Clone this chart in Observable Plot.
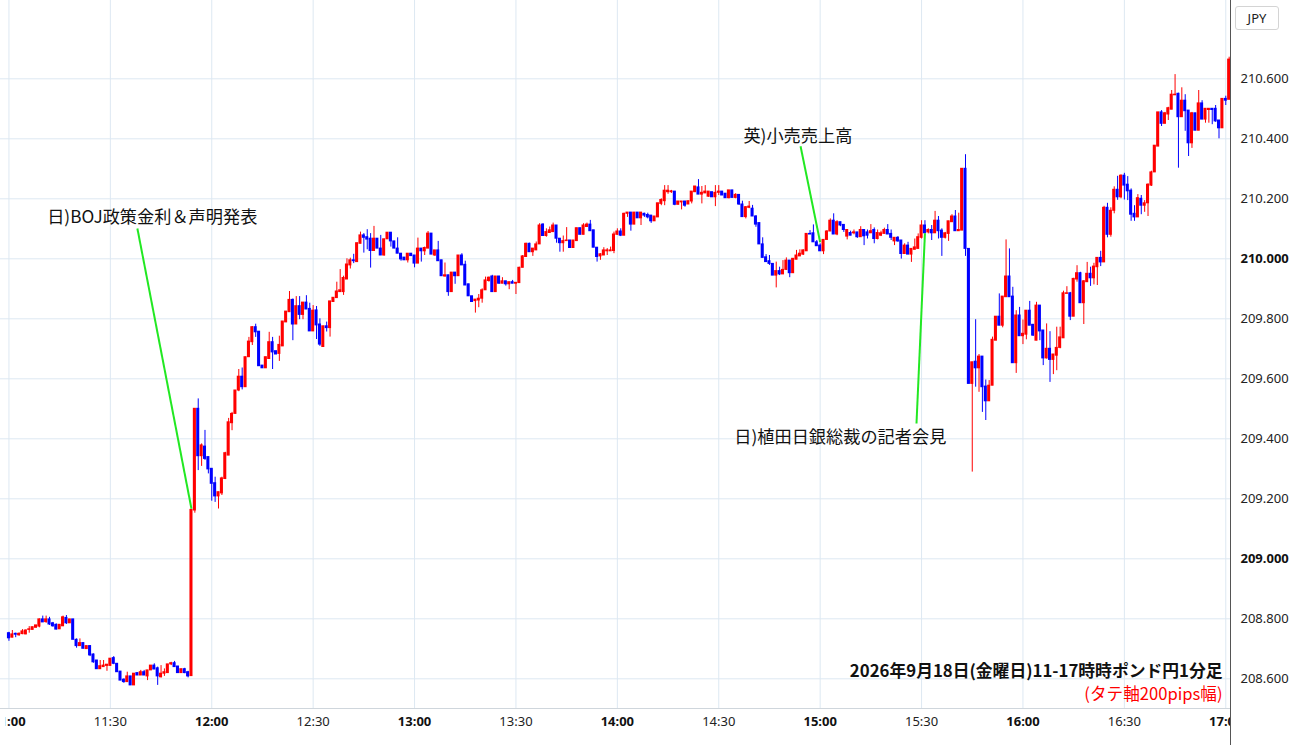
<!DOCTYPE html>
<html lang="ja">
<head>
<meta charset="utf-8">
<script src="https://cdn.jsdelivr.net/npm/d3@7"></script>
<script src="https://cdn.jsdelivr.net/npm/@observablehq/plot@0.6"></script>
<style>
html,body{margin:0;padding:0;background:#fff;}
#chart{position:relative;width:1300px;height:745px;overflow:hidden;}
#unit{position:absolute;left:1235px;top:6px;width:44px;height:24px;box-sizing:border-box;border:1px solid #d4d4d4;border-radius:3px;font:13px "Noto Sans",sans-serif;color:#222;display:flex;align-items:center;justify-content:center;background:#fff;z-index:2;}
</style>
</head>
<body>
<div id="chart"><div id="unit">JPY</div></div>
<script>
// GBP/JPY 1-minute candles, 2026-09-18, starting 11:00 (one entry per minute)
const startTime = "11:00";
const open = [
208.752,208.737,208.750,208.745,208.749,208.748,208.763,208.763,208.770,208.774,
208.798,208.789,208.798,208.785,208.780,208.765,208.775,208.803,208.785,208.798,
208.730,208.709,208.719,208.699,208.709,208.681,208.661,208.632,208.639,208.643,
208.643,208.669,208.650,208.624,208.597,208.589,208.608,208.578,208.619,208.611,
208.622,208.608,208.628,208.644,208.635,208.605,208.617,208.619,208.648,208.652,
208.641,208.619,208.632,208.622,208.609,209.161,209.500,209.342,209.374,209.339,
209.300,209.252,209.208,209.218,209.266,209.344,209.452,209.483,209.561,209.607,
209.572,209.672,209.722,209.772,209.757,209.644,209.635,209.666,209.722,209.692,
209.683,209.708,209.788,209.822,209.863,209.781,209.842,209.813,209.854,209.833,
209.758,209.828,209.781,209.706,209.775,209.769,209.856,209.869,209.889,209.889,
209.931,209.978,209.995,209.989,210.050,210.078,210.072,210.067,210.026,210.067,
210.034,210.011,210.065,210.087,210.058,210.034,210.017,210.004,209.995,210.017,
210.011,209.984,210.034,210.025,210.034,210.084,210.011,210.028,209.995,209.941,
209.945,209.889,209.954,209.942,210.011,209.980,209.915,209.875,209.859,209.861,
209.867,209.895,209.926,209.941,209.889,209.941,209.917,209.925,209.915,209.922,
209.917,209.919,209.970,210.006,210.050,210.022,210.028,210.048,210.114,210.076,
210.086,210.089,210.111,210.067,210.052,210.059,210.061,210.036,210.059,210.102,
210.080,210.106,210.114,210.095,210.037,210.008,210.011,210.025,210.025,210.026,
210.080,210.091,210.077,210.150,210.154,210.114,210.154,210.135,210.150,210.146,
210.144,210.125,210.138,210.183,210.192,210.222,210.222,210.224,210.180,210.188,
210.191,210.181,210.191,210.222,210.238,210.214,210.218,210.207,210.222,210.205,
210.220,210.224,210.217,210.202,210.228,210.203,210.213,210.181,210.139,210.170,
210.167,210.141,210.119,210.048,210.005,209.992,209.983,209.944,209.959,209.948,
209.963,209.994,209.952,209.997,210.008,210.014,210.025,210.083,210.085,210.055,
210.044,210.025,210.063,210.091,210.127,210.081,210.122,210.113,210.074,210.086,
210.085,210.088,210.072,210.096,210.088,210.085,210.096,210.066,210.077,210.083,
210.096,210.083,210.058,210.070,210.061,210.016,210.044,210.014,210.030,210.033,
210.070,210.111,210.088,210.096,210.085,210.127,210.094,210.070,210.083,210.122,
210.141,210.092,210.094,210.300,210.033,209.583,209.657,209.635,209.674,209.574,
209.525,209.577,209.727,209.807,209.777,209.872,209.941,209.874,209.652,209.811,
209.742,209.747,209.827,209.780,209.727,209.844,209.761,209.668,209.700,209.663,
209.677,209.703,209.735,209.883,209.885,209.807,209.931,209.952,209.852,209.922,
209.950,209.935,209.972,210.003,209.988,210.170,210.080,210.160,210.230,210.205,
210.277,210.247,210.227,210.150,210.138,210.200,210.177,210.185,210.244,210.288,
210.374,210.488,210.450,210.481,210.497,210.545,210.550,210.472,210.527,210.494,
210.385,210.485,210.427,210.518,210.464,210.496,210.500,210.500,210.461,210.435,
210.533,210.530];
const high = [
208.755,208.761,208.752,208.753,208.764,208.763,208.774,208.772,208.778,208.800,
208.809,208.809,208.805,208.788,208.783,208.780,208.809,208.811,208.798,208.798,
208.733,208.733,208.719,208.709,208.711,208.683,208.661,208.661,208.661,208.647,
208.667,208.674,208.650,208.624,208.600,208.622,208.608,208.617,208.619,208.628,
208.628,208.628,208.644,208.650,208.639,208.644,208.633,208.648,208.655,208.658,
208.641,208.632,208.635,208.625,209.163,209.500,209.533,209.383,209.428,209.339,
209.300,209.272,209.222,209.272,209.355,209.468,209.488,209.561,209.631,209.636,
209.672,209.738,209.774,209.782,209.757,209.644,209.672,209.755,209.738,209.692,
209.742,209.791,209.824,209.891,209.866,209.874,209.874,209.854,209.877,209.852,
209.844,209.841,209.800,209.775,209.789,209.858,209.870,209.922,209.964,209.942,
210.000,210.002,210.015,210.052,210.089,210.084,210.097,210.084,210.108,210.067,
210.078,210.065,210.087,210.087,210.058,210.070,210.017,210.004,210.017,210.017,
210.011,210.069,210.034,210.039,210.091,210.084,210.028,210.058,209.995,209.986,
209.945,209.954,209.954,210.011,210.017,209.992,209.915,209.875,209.864,209.881,
209.900,209.939,209.939,209.945,209.941,209.941,209.937,209.925,209.922,209.928,
209.920,209.972,210.011,210.052,210.052,210.034,210.056,210.117,210.117,210.100,
210.106,210.119,210.111,210.067,210.076,210.104,210.061,210.061,210.102,210.102,
210.117,210.119,210.128,210.095,210.037,210.017,210.037,210.034,210.039,210.089,
210.100,210.100,210.152,210.154,210.154,210.154,210.154,210.154,210.152,210.152,
210.144,210.141,210.185,210.200,210.244,210.244,210.228,210.224,210.191,210.191,
210.191,210.192,210.224,210.241,210.264,210.241,210.244,210.224,210.222,210.244,
210.244,210.224,210.217,210.228,210.228,210.217,210.213,210.192,210.174,210.191,
210.178,210.144,210.119,210.070,210.014,210.011,209.983,209.989,209.972,209.994,
210.003,209.994,210.000,210.028,210.030,210.030,210.083,210.094,210.113,210.061,
210.050,210.063,210.094,210.133,210.150,210.127,210.122,210.113,210.096,210.092,
210.096,210.088,210.107,210.096,210.096,210.114,210.103,210.096,210.092,210.102,
210.114,210.096,210.070,210.074,210.061,210.050,210.055,210.033,210.066,210.083,
210.127,210.127,210.100,210.111,210.158,210.141,210.100,210.088,210.125,210.147,
210.161,210.152,210.300,210.347,210.033,209.655,209.797,209.681,209.674,209.596,
209.594,209.739,209.807,209.883,209.874,210.063,210.033,209.905,209.827,209.838,
209.796,209.827,209.858,209.780,209.855,209.844,209.761,209.783,209.757,209.681,
209.772,209.772,209.892,209.907,209.888,209.935,209.977,209.955,209.927,209.988,
209.972,209.985,210.003,210.025,210.175,210.185,210.170,210.240,210.275,210.280,
210.285,210.274,210.233,210.177,210.214,210.211,210.194,210.250,210.292,210.377,
210.488,210.494,210.488,210.505,210.561,210.614,210.552,210.570,210.547,210.494,
210.488,210.485,210.561,210.527,210.500,210.500,210.500,210.511,210.461,210.533,
210.542,210.672];
const low = [
208.725,208.737,208.737,208.742,208.747,208.747,208.752,208.763,208.770,208.770,
208.788,208.785,208.778,208.772,208.763,208.765,208.775,208.781,208.785,208.730,
208.702,208.709,208.700,208.699,208.674,208.652,208.632,208.632,208.639,208.625,
208.643,208.647,208.622,208.594,208.585,208.589,208.578,208.578,208.611,208.611,
208.611,208.594,208.628,208.631,208.578,208.603,208.608,208.619,208.644,208.639,
208.619,208.619,208.617,208.603,208.609,209.152,209.294,209.308,209.328,209.283,
209.192,209.188,209.166,209.211,209.264,209.344,209.427,209.483,209.557,209.563,
209.572,209.672,209.711,209.738,209.642,209.635,209.635,209.666,209.631,209.681,
209.658,209.708,209.788,209.822,209.727,209.781,209.797,209.797,209.831,209.758,
209.758,209.731,209.708,209.706,209.756,209.739,209.856,209.869,209.889,209.878,
209.931,209.966,209.984,209.989,210.050,210.019,210.030,209.969,210.026,210.034,
210.011,210.009,210.065,210.039,210.034,210.017,209.992,209.995,209.986,210.009,
209.970,209.984,209.989,210.011,210.034,210.014,210.008,209.992,209.942,209.939,
209.875,209.889,209.915,209.942,209.978,209.911,209.875,209.856,209.819,209.837,
209.852,209.895,209.922,209.889,209.889,209.915,209.917,209.909,209.897,209.917,
209.881,209.919,209.970,210.006,210.022,210.008,210.028,210.048,210.076,210.072,
210.086,210.089,210.052,210.022,210.022,210.059,210.036,210.036,210.059,210.080,
210.080,210.106,210.092,210.037,209.989,209.995,210.011,210.011,210.025,210.017,
210.078,210.074,210.077,210.138,210.092,210.114,210.135,210.111,210.138,210.133,
210.118,210.125,210.138,210.177,210.177,210.215,210.218,210.177,210.180,210.163,
210.172,210.181,210.183,210.222,210.214,210.183,210.218,210.205,210.205,210.174,
210.211,210.211,210.202,210.200,210.203,210.200,210.178,210.139,210.133,210.167,
210.141,210.105,210.048,210.003,209.989,209.978,209.944,209.903,209.944,209.948,
209.961,209.937,209.952,209.997,210.008,210.011,210.025,210.081,210.055,210.041,
210.025,210.014,210.061,210.091,210.081,210.077,210.107,210.088,210.063,210.077,
210.080,210.068,210.072,210.044,210.066,210.085,210.050,210.063,210.074,210.083,
210.081,210.061,210.044,210.055,209.999,210.016,210.014,209.988,210.030,210.033,
210.066,210.083,210.083,210.061,210.085,210.066,210.008,210.066,210.058,210.122,
210.092,210.092,210.094,210.008,209.583,209.289,209.572,209.555,209.488,209.461,
209.525,209.577,209.727,209.777,209.770,209.872,209.872,209.652,209.618,209.742,
209.714,209.730,209.777,209.741,209.727,209.727,209.644,209.666,209.588,209.614,
209.627,209.700,209.735,209.883,209.794,209.807,209.922,209.852,209.781,209.922,
209.908,209.913,209.911,209.974,209.988,210.070,210.072,210.150,210.195,210.200,
210.196,210.194,210.125,210.125,210.138,210.147,210.155,210.141,210.241,210.288,
210.374,210.441,210.450,210.461,210.497,210.545,210.302,210.472,210.425,210.341,
210.368,210.427,210.427,210.464,210.452,210.452,210.447,210.455,210.400,210.435,
210.511,210.530];
const close = [
208.735,208.748,208.747,208.750,208.758,208.761,208.765,208.772,208.778,208.798,
208.788,208.798,208.781,208.775,208.764,208.780,208.805,208.785,208.798,208.730,
208.709,208.719,208.700,208.709,208.678,208.655,208.632,208.642,208.644,208.647,
208.667,208.650,208.622,208.594,208.589,208.608,208.578,208.617,208.611,208.622,
208.611,208.628,208.644,208.631,208.608,208.617,208.622,208.648,208.652,208.639,
208.619,208.632,208.619,208.608,209.163,209.500,209.342,209.378,209.333,209.298,
209.250,209.208,209.222,209.268,209.352,209.455,209.483,209.561,209.607,209.572,
209.672,209.724,209.772,209.755,209.642,209.635,209.672,209.722,209.688,209.681,
209.713,209.791,209.824,209.863,209.781,209.842,209.813,209.854,209.831,209.758,
209.827,209.778,209.714,209.775,209.769,209.858,209.870,209.891,209.895,209.936,
209.981,209.995,209.992,210.052,210.078,210.070,210.064,210.026,210.067,210.034,
210.011,210.065,210.087,210.058,210.034,210.017,209.998,209.995,210.017,210.009,
209.984,210.034,210.025,210.036,210.084,210.014,210.028,209.992,209.942,209.945,
209.889,209.954,209.942,210.011,209.978,209.911,209.875,209.856,209.864,209.867,
209.895,209.928,209.937,209.889,209.941,209.917,209.925,209.915,209.922,209.917,
209.920,209.970,210.008,210.050,210.022,210.034,210.048,210.111,210.076,210.089,
210.095,210.111,210.067,210.052,210.059,210.061,210.036,210.061,210.102,210.080,
210.111,210.114,210.092,210.037,210.006,210.015,210.028,210.028,210.028,210.081,
210.091,210.077,210.150,210.154,210.114,210.154,210.135,210.154,210.144,210.138,
210.125,210.141,210.185,210.196,210.227,210.227,210.225,210.180,210.191,210.191,
210.177,210.192,210.224,210.241,210.214,210.220,210.224,210.224,210.205,210.220,
210.224,210.211,210.202,210.228,210.203,210.213,210.181,210.139,210.172,210.174,
210.141,210.114,210.048,210.003,209.989,209.983,209.944,209.959,209.948,209.963,
209.994,209.952,210.000,210.011,210.017,210.028,210.083,210.081,210.055,210.042,
210.025,210.063,210.091,210.127,210.081,210.122,210.111,210.096,210.096,210.077,
210.088,210.072,210.096,210.075,210.077,210.092,210.066,210.086,210.085,210.096,
210.081,210.070,210.070,210.058,210.016,210.044,210.014,210.033,210.038,210.072,
210.111,210.085,210.096,210.085,210.127,210.092,210.070,210.085,210.125,210.141,
210.092,210.096,210.300,210.033,209.583,209.655,209.635,209.674,209.572,209.525,
209.577,209.730,209.807,209.777,209.874,209.941,209.872,209.652,209.811,209.742,
209.750,209.827,209.777,209.744,209.844,209.758,209.668,209.700,209.663,209.681,
209.703,209.738,209.885,209.885,209.807,209.933,209.952,209.852,209.925,209.950,
209.935,209.974,210.003,209.988,210.170,210.080,210.160,210.230,210.205,210.277,
210.244,210.225,210.147,210.138,210.202,210.177,210.185,210.247,210.288,210.377,
210.488,210.450,210.485,210.502,210.547,210.547,210.472,210.527,210.492,210.385,
210.485,210.427,210.518,210.464,210.500,210.500,210.496,210.458,210.435,210.533,
210.527,210.664];

// axes
const timeTicks = ["11:00","11:30","12:00","12:30","13:00","13:30","14:00","14:30","15:00","15:30","16:00","16:30","17:00"];
const priceTicks = [208.6, 208.8, 209.0, 209.2, 209.4, 209.6, 209.8, 210.0, 210.2, 210.4, 210.6];

// annotations (event label, label position, line start, candle anchor)
const noteLabels = ["日)BOJ政策金利＆声明発表", "英)小売売上高", "日)植田日銀総裁の記者会見"];
const noteLabelTime = [11.3, 217.3, 214.6];
const noteLabelPrice = [210.138, 210.408, 209.405];
const noteLineTime = [38.0, 234.2, 268.5];
const noteLinePrice = [210.101, 210.375, 209.451];
const noteAnchorTime = ["11:54", "15:00", "15:31"];
const noteAnchorPrice = [209.167, 210.055, 210.085];

const titleText = "2026年9月18日(金曜日)11-17時時ポンド円1分足";
const subText = "(タテ軸200pips幅)";

// ---- build ----
const [h0, m0] = startTime.split(":").map(Number);
const toMin = s => { const [h, m] = s.split(":").map(Number); return (h - h0) * 60 + (m - m0); };
const fmtTime = t => { const tot = h0 * 60 + m0 + t; return `${Math.floor(tot / 60)}:${String(tot % 60).padStart(2, "0")}`; };

const candles = close.map((c, i) => ({t: i, o: open[i], h: high[i], l: low[i], c}));
const UP = "#ff0000", DOWN = "#0000ff";
const col = d => d.c >= d.o ? UP : DOWN;

const tickMin = timeTicks.map(toMin);
const hourTicks = tickMin.filter(t => (t + m0) % 60 === 0);
const halfTicks = tickMin.filter(t => (t + m0) % 60 !== 0);
const boldPrices = priceTicks.filter(p => Math.abs(p - Math.round(p)) < 1e-9);
const plainPrices = priceTicks.filter(p => Math.abs(p - Math.round(p)) >= 1e-9);

const notes = noteLabels.map((label, i) => ({
  label, lt: noteLabelTime[i], lp: noteLabelPrice[i],
  x1: noteLineTime[i], y1: noteLinePrice[i],
  x2: toMin(noteAnchorTime[i]), y2: noteAnchorPrice[i]
}));

const GRID = "#dde8f2";
const chart = Plot.plot({
  width: 1300, height: 745,
  marginLeft: 0, marginRight: 70, marginTop: 0, marginBottom: 37,
  style: {fontFamily: "'Noto Sans', sans-serif", fontSize: "13px", color: "#222", background: "#fff"},
  x: {type: "linear", domain: [-2.5, 361.4]},
  y: {domain: [208.501, 210.861]},
  marks: [
    Plot.gridX(tickMin, {stroke: GRID, strokeOpacity: 1}),
    Plot.gridY(priceTicks, {stroke: GRID, strokeOpacity: 1}),
    Plot.ruleX(candles, {x: "t", y1: "l", y2: "h", stroke: col, strokeWidth: 1}),
    Plot.rect(candles, {x1: d => d.t - 0.45, x2: d => d.t + 0.45, y1: "o", y2: "c", fill: col, insetTop: -0.5, insetBottom: -0.5}),
    Plot.link(notes, {x1: "x1", y1: "y1", x2: "x2", y2: "y2", stroke: "#22e822", strokeWidth: 2}),
    Plot.text(notes, {x: "lt", y: "lp", text: "label", textAnchor: "start", fontSize: 17.2, fill: "#111", fontFamily: "'Noto Sans CJK JP', sans-serif"}),
    Plot.text([titleText], {frameAnchor: "bottom-right", dx: -8, dy: -37, lineAnchor: "middle", fontSize: 16.8, fontWeight: "bold", fill: "#111", fontFamily: "'Noto Sans CJK JP', sans-serif"}),
    Plot.text([subText], {frameAnchor: "bottom-right", dx: -8, dy: -14, lineAnchor: "middle", fontSize: 16.6, fill: "#ff0000", fontFamily: "'Noto Sans CJK JP', sans-serif"}),
    Plot.axisX(halfTicks, {anchor: "bottom", tickSize: 0, tickPadding: 8, tickFormat: fmtTime, fill: "#222"}),
    Plot.axisX(hourTicks, {anchor: "bottom", tickSize: 0, tickPadding: 8, tickFormat: fmtTime, fontWeight: "bold", fill: "#111"}),
    Plot.axisY(plainPrices, {anchor: "right", tickSize: 0, tickPadding: 10, tickFormat: d => d.toFixed(3), fill: "#222"}),
    Plot.axisY(boldPrices, {anchor: "right", tickSize: 0, tickPadding: 10, tickFormat: d => d.toFixed(3), fontWeight: "bold", fill: "#111"})
  ]
});

// frame lines (right & bottom edges) and clip of x labels at the plot edges
const svg = d3.select(chart);
const xs = chart.scale("x"), ys = chart.scale("y");
const right = xs.range[1], bottom = ys.range[0];
const defs = svg.insert("defs", ":first-child");
defs.append("clipPath").attr("id", "xclip").append("rect").attr("x", 5).attr("y", 0).attr("width", right - 5).attr("height", 745);
svg.selectAll('g[aria-label="x-axis tick label"]').attr("clip-path", "url(#xclip)");
svg.append("line").attr("x1", 0).attr("x2", right).attr("y1", bottom + 0.5).attr("y2", bottom + 0.5).attr("stroke", "#cfd6dc");
svg.append("line").attr("x1", right + 0.5).attr("x2", right + 0.5).attr("y1", 0).attr("y2", 745).attr("stroke", "#555");

document.getElementById("chart").appendChild(chart);
</script>
</body>
</html>
